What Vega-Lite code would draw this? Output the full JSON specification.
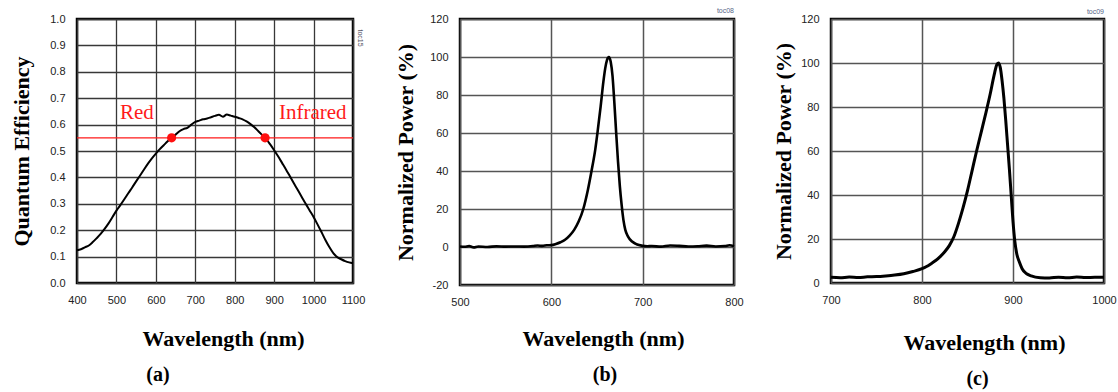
{
  "$schema": "https://vega.github.io/schema/vega-lite/v6.json",
  "background": "white",
  "padding": {"left": 8, "top": 5, "right": 2, "bottom": 2},
  "spacing": 25,
  "config": {
    "view": {"stroke": "black", "strokeWidth": 2.5},
    "axis": {
      "domain": false, "ticks": false, "tickSize": 0,
      "labelFont": "Liberation Sans", "labelFontSize": 11, "labelColor": "#222",
      "labelFlush": false, "labelOverlap": false,
      "titleFont": "Liberation Serif", "titleFontSize": 22, "titleFontWeight": "bold", "titleColor": "black",
      "grid": true, "gridColor": "#383838", "gridOpacity": 1, "gridWidth": 1.3
    },
    "axisX": {"labelPadding": 11, "titleBaseline": "middle", "titleAlign": "center", "labelExpr": "'' + datum.value"},
    "axisY": {"labelPadding": 12, "titleAngle": 270, "titleBaseline": "middle", "titleAlign": "center"},
    "title": {"font": "Liberation Serif", "fontSize": 20, "fontWeight": "bold", "color": "black", "orient": "bottom", "anchor": "middle", "frame": "group"}
  },
  "datasets": {
    "qe": [
      {"wl": 400, "v": 0.124}, {"wl": 410, "v": 0.128}, {"wl": 420, "v": 0.135}, {"wl": 430, "v": 0.142},
      {"wl": 440, "v": 0.155}, {"wl": 450, "v": 0.170}, {"wl": 460, "v": 0.186}, {"wl": 470, "v": 0.205},
      {"wl": 480, "v": 0.226}, {"wl": 490, "v": 0.250}, {"wl": 500, "v": 0.274}, {"wl": 510, "v": 0.295},
      {"wl": 520, "v": 0.317}, {"wl": 530, "v": 0.340}, {"wl": 540, "v": 0.362}, {"wl": 550, "v": 0.385},
      {"wl": 560, "v": 0.407}, {"wl": 570, "v": 0.430}, {"wl": 580, "v": 0.452}, {"wl": 590, "v": 0.472},
      {"wl": 600, "v": 0.490}, {"wl": 610, "v": 0.507}, {"wl": 620, "v": 0.522}, {"wl": 630, "v": 0.537},
      {"wl": 640, "v": 0.550}, {"wl": 650, "v": 0.562}, {"wl": 660, "v": 0.575}, {"wl": 670, "v": 0.583},
      {"wl": 680, "v": 0.588}, {"wl": 690, "v": 0.600}, {"wl": 700, "v": 0.610}, {"wl": 710, "v": 0.615},
      {"wl": 720, "v": 0.620}, {"wl": 730, "v": 0.623}, {"wl": 740, "v": 0.628}, {"wl": 750, "v": 0.633},
      {"wl": 760, "v": 0.637}, {"wl": 770, "v": 0.630}, {"wl": 780, "v": 0.638}, {"wl": 790, "v": 0.634},
      {"wl": 800, "v": 0.630}, {"wl": 810, "v": 0.625}, {"wl": 820, "v": 0.620}, {"wl": 830, "v": 0.612},
      {"wl": 840, "v": 0.602}, {"wl": 850, "v": 0.590}, {"wl": 860, "v": 0.575}, {"wl": 870, "v": 0.560},
      {"wl": 880, "v": 0.545}, {"wl": 890, "v": 0.525}, {"wl": 900, "v": 0.503}, {"wl": 910, "v": 0.480},
      {"wl": 920, "v": 0.455}, {"wl": 930, "v": 0.430}, {"wl": 940, "v": 0.404}, {"wl": 950, "v": 0.378},
      {"wl": 960, "v": 0.352}, {"wl": 970, "v": 0.326}, {"wl": 980, "v": 0.300}, {"wl": 990, "v": 0.275},
      {"wl": 1000, "v": 0.250}, {"wl": 1010, "v": 0.222}, {"wl": 1020, "v": 0.193}, {"wl": 1030, "v": 0.163},
      {"wl": 1040, "v": 0.136}, {"wl": 1050, "v": 0.113}, {"wl": 1060, "v": 0.098}, {"wl": 1070, "v": 0.090},
      {"wl": 1080, "v": 0.083}, {"wl": 1090, "v": 0.078}, {"wl": 1100, "v": 0.075}
    ],
    "red": [
      {"wl": 500, "p": 0.3}, {"wl": 505, "p": 0.1}, {"wl": 510, "p": 0.5}, {"wl": 515, "p": -0.2},
      {"wl": 520, "p": 0.3}, {"wl": 530, "p": 0.0}, {"wl": 540, "p": 0.4}, {"wl": 550, "p": 0.2},
      {"wl": 560, "p": 0.3}, {"wl": 570, "p": 0.2}, {"wl": 580, "p": 0.5}, {"wl": 585, "p": 0.8},
      {"wl": 590, "p": 0.6}, {"wl": 595, "p": 0.9}, {"wl": 600, "p": 1.0}, {"wl": 605, "p": 1.6},
      {"wl": 610, "p": 2.5}, {"wl": 615, "p": 3.8}, {"wl": 620, "p": 6.0}, {"wl": 625, "p": 9.0},
      {"wl": 630, "p": 13.5}, {"wl": 635, "p": 20}, {"wl": 640, "p": 30}, {"wl": 644, "p": 40},
      {"wl": 648, "p": 51}, {"wl": 651, "p": 62}, {"wl": 654, "p": 74}, {"wl": 657, "p": 87},
      {"wl": 659, "p": 94}, {"wl": 661, "p": 98.5}, {"wl": 663, "p": 100}, {"wl": 665, "p": 97.5},
      {"wl": 667, "p": 90}, {"wl": 669, "p": 76}, {"wl": 671, "p": 60}, {"wl": 673, "p": 45},
      {"wl": 675, "p": 32}, {"wl": 677, "p": 22}, {"wl": 679, "p": 14}, {"wl": 681, "p": 9},
      {"wl": 684, "p": 5.5}, {"wl": 688, "p": 3}, {"wl": 692, "p": 1.8}, {"wl": 696, "p": 1.0},
      {"wl": 700, "p": 0.6}, {"wl": 705, "p": 0.4}, {"wl": 710, "p": 0.5}, {"wl": 720, "p": 0.2},
      {"wl": 730, "p": 0.8}, {"wl": 740, "p": 0.6}, {"wl": 750, "p": 0.3}, {"wl": 760, "p": 0.4},
      {"wl": 770, "p": 0.7}, {"wl": 780, "p": 0.3}, {"wl": 790, "p": 0.5}, {"wl": 795, "p": 0.9},
      {"wl": 800, "p": 0.4}
    ],
    "ir": [
      {"wl": 700, "p": 2.6}, {"wl": 710, "p": 2.4}, {"wl": 720, "p": 2.7}, {"wl": 730, "p": 2.5},
      {"wl": 740, "p": 2.8}, {"wl": 750, "p": 2.9}, {"wl": 760, "p": 3.2}, {"wl": 770, "p": 3.6},
      {"wl": 780, "p": 4.2}, {"wl": 790, "p": 5.2}, {"wl": 800, "p": 6.5}, {"wl": 805, "p": 7.5},
      {"wl": 810, "p": 8.8}, {"wl": 815, "p": 10.2}, {"wl": 820, "p": 12}, {"wl": 825, "p": 14.2},
      {"wl": 830, "p": 17}, {"wl": 835, "p": 21}, {"wl": 840, "p": 27}, {"wl": 845, "p": 34},
      {"wl": 850, "p": 42}, {"wl": 855, "p": 51}, {"wl": 860, "p": 60}, {"wl": 865, "p": 68.5},
      {"wl": 870, "p": 77}, {"wl": 875, "p": 86}, {"wl": 879, "p": 94}, {"wl": 882, "p": 99},
      {"wl": 884, "p": 100}, {"wl": 886, "p": 98}, {"wl": 888, "p": 92}, {"wl": 890, "p": 84},
      {"wl": 892, "p": 74}, {"wl": 894, "p": 63}, {"wl": 896, "p": 52}, {"wl": 898, "p": 40},
      {"wl": 900, "p": 28}, {"wl": 902, "p": 19}, {"wl": 904, "p": 13.5}, {"wl": 907, "p": 9.5},
      {"wl": 910, "p": 6.5}, {"wl": 915, "p": 4.2}, {"wl": 920, "p": 3.2}, {"wl": 930, "p": 2.4},
      {"wl": 940, "p": 2.3}, {"wl": 950, "p": 2.6}, {"wl": 960, "p": 2.4}, {"wl": 970, "p": 2.7},
      {"wl": 980, "p": 2.5}, {"wl": 990, "p": 2.6}, {"wl": 1000, "p": 2.6}
    ]
  },
  "hconcat": [
    {
      "width": 276, "height": 264,
      "title": {"text": "(a)", "dx": -57, "offset": 16},
      "encoding": {
        "x": {"field": "wl", "type": "quantitative",
              "scale": {"domain": [400, 1100], "nice": false, "zero": false},
              "axis": {"values": [400, 500, 600, 700, 800, 900, 1000, 1100], "title": "Wavelength (nm)", "titleX": 146, "titleY": 55}},
        "y": {"field": "v", "type": "quantitative",
              "scale": {"domain": [0, 1], "nice": false},
              "axis": {"values": [0, 0.1, 0.2, 0.3, 0.4, 0.5, 0.6, 0.7, 0.8, 0.9, 1.0], "format": ".1f", "title": "Quantum Efficiency", "titleX": -56, "titleY": 132}}
      },
      "layer": [
        {"data": {"name": "qe"}, "mark": {"type": "line", "color": "black", "strokeWidth": 2, "interpolate": "monotone"}},
        {"data": {"values": [{"v": 0.55}]}, "mark": {"type": "rule", "color": "#ff1a1a", "strokeWidth": 1.3},
         "encoding": {"x": null}},
        {"data": {"values": [{"wl": 640, "v": 0.55}, {"wl": 877, "v": 0.55}]},
         "mark": {"type": "point", "filled": true, "color": "#ff1010", "size": 85, "opacity": 1}},
        {"data": {"values": [{"wl": 552, "v": 0.644, "t": "Red"}, {"wl": 998, "v": 0.644, "t": "Infrared"}]},
         "mark": {"type": "text", "color": "#ff1a1a", "font": "Liberation Serif", "fontSize": 21, "baseline": "middle", "align": "center"},
         "encoding": {"text": {"field": "t"}}},
        {"data": {"values": [{"wl": 1100, "v": 0.928, "t": "toc15"}]},
         "mark": {"type": "text", "color": "#555566", "font": "Liberation Sans", "fontSize": 7, "angle": 90, "dy": -7, "baseline": "middle", "align": "center"},
         "encoding": {"text": {"field": "t"}}}
      ]
    },
    {
      "width": 274, "height": 266,
      "title": {"text": "(b)", "dx": 8, "offset": 16},
      "encoding": {
        "x": {"field": "wl", "type": "quantitative",
              "scale": {"domain": [500, 800], "nice": false, "zero": false},
              "axis": {"values": [500, 600, 700, 800], "title": "Wavelength (nm)", "titleX": 143, "titleY": 53, "gridColor": "#555", "gridWidth": 1.5}},
        "y": {"field": "p", "type": "quantitative",
              "scale": {"domain": [-20, 120], "nice": false, "zero": false},
              "axis": {"values": [-20, 0, 20, 40, 60, 80, 100, 120], "labelExpr": "'' + datum.value", "title": "Normalized Power (%)", "titleX": -55, "titleY": 133, "gridColor": "#555", "gridWidth": 1.5}}
      },
      "layer": [
        {"data": {"name": "red"}, "mark": {"type": "line", "color": "black", "strokeWidth": 2.6, "interpolate": "monotone"}},
        {"data": {"values": [{"wl": 800, "p": 120, "t": "toc08"}]},
         "mark": {"type": "text", "color": "#556688", "font": "Liberation Sans", "fontSize": 7, "dy": -8, "baseline": "middle", "align": "right"},
         "encoding": {"text": {"field": "t"}}}
      ]
    },
    {
      "width": 273, "height": 264,
      "title": {"text": "(c)", "dx": 10, "offset": 16},
      "encoding": {
        "x": {"field": "wl", "type": "quantitative",
              "scale": {"domain": [700, 1000], "nice": false, "zero": false},
              "axis": {"values": [700, 800, 900, 1000], "title": "Wavelength (nm)", "titleX": 153, "titleY": 59, "gridColor": "#555", "gridWidth": 1.5}},
        "y": {"field": "p", "type": "quantitative",
              "scale": {"domain": [0, 120], "nice": false},
              "axis": {"values": [0, 20, 40, 60, 80, 100, 120], "labelExpr": "'' + datum.value", "title": "Normalized Power (%)", "titleX": -48, "titleY": 132, "gridColor": "#555", "gridWidth": 1.5}}
      },
      "layer": [
        {"data": {"name": "ir"}, "mark": {"type": "line", "color": "black", "strokeWidth": 3, "interpolate": "monotone"}},
        {"data": {"values": [{"wl": 1000, "p": 120, "t": "toc09"}]},
         "mark": {"type": "text", "color": "#556688", "font": "Liberation Sans", "fontSize": 7, "dy": -7, "baseline": "middle", "align": "right"},
         "encoding": {"text": {"field": "t"}}}
      ]
    }
  ]
}
